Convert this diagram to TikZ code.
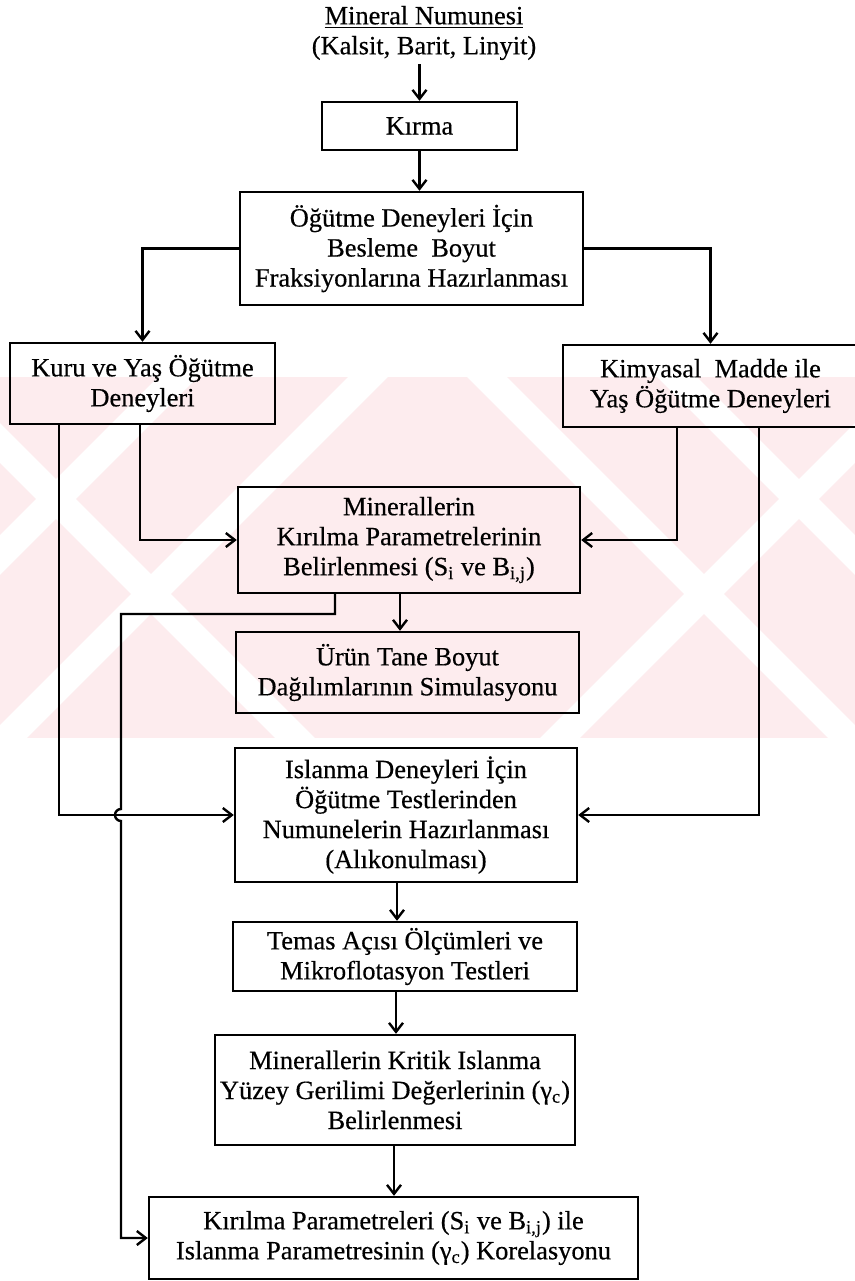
\documentclass[tikz,border=0pt]{standalone}
\usepackage{fontspec}
\setmainfont{Liberation Serif}[FakeBold=0.4]
\usetikzlibrary{arrows.meta}

\definecolor{wmpink}{RGB}{253,236,238}

\begin{document}
\begin{tikzpicture}[x=0.5pt, y=-0.5pt,
    box/.style={draw, line width=1.2pt, align=center, inner sep=0pt,
        font=\fontsize{13.2}{15}\selectfont},
    arr/.style={-{Straight Barb[length=4.5pt,width=7pt]}, line width=1.2pt},
    stripe/.style={white, line width=14pt}]
\useasboundingbox (0,0) rectangle (855,1281);
\begin{scope}
    \clip (0,377) rectangle (855,738);
    \fill [wmpink] (0,377) rectangle (855,738);
    \foreach \c in {443,-110,-300}
        \draw [stripe] (-500,{-500+\c}) -- (1400,{1400+\c});
    \foreach \c in {1298,745,555}
        \draw [stripe] (-500,{\c+500}) -- (1400,{\c-1400});
\end{scope}
\node (sample) at (424,33) [align=center, inner sep=0pt, font=\fontsize{13.2}{15}\selectfont]
    {\underline{Mineral Numunesi}\\(Kalsit, Barit, Linyit)};
\node (kirma) at (419.5,126) [box, minimum width=97.5pt, minimum height=24pt] {Kırma};
\node (besleme) at (411.5,248.5) [box, minimum width=171.5pt, minimum height=56.5pt]
    {Öğütme Deneyleri İçin\\Besleme\ \ Boyut\\Fraksiyonlarına Hazırlanması};
\node (kuru) at (142.5,383.5) [box, minimum width=132.5pt, minimum height=40.5pt]
    {Kuru ve Yaş Öğütme\\Deneyleri};
\node (kimya) at (710.5,386) [box, minimum width=147.5pt, minimum height=41pt]
    {Kimyasal\ \ Madde ile\\Yaş Öğütme Deneyleri};
\node (kirilma) at (409,540) [box, minimum width=171pt, minimum height=53pt]
    {Minerallerin\\Kırılma Parametrelerinin\\Belirlenmesi (S\textsubscript{i} ve B\textsubscript{i,j})};
\node (urun) at (407.5,672.5) [box, minimum width=171.5pt, minimum height=40.5pt]
    {Ürün Tane Boyut\\Dağılımlarının Simulasyonu};
\node (islanma) at (406,815) [box, minimum width=171pt, minimum height=67pt]
    {Islanma Deneyleri İçin\\Öğütme Testlerinden\\Numunelerin Hazırlanması\\(Alıkonulması)};
\node (temas) at (405,956.5) [box, minimum width=172pt, minimum height=34.5pt]
    {Temas Açısı Ölçümleri ve\\Mikroflotasyon Testleri};
\node (kritik) at (395,1090) [box, minimum width=180pt, minimum height=55pt]
    {Minerallerin Kritik Islanma\\Yüzey Gerilimi Değerlerinin (γ\textsubscript{c})\\Belirlenmesi};
\node (korelasyon) at (393.5,1238) [box, minimum width=244.5pt, minimum height=41pt]
    {Kırılma Parametreleri (S\textsubscript{i} ve B\textsubscript{i,j}) ile\\Islanma Parametresinin (γ\textsubscript{c}) Korelasyonu};
\coordinate (turn) at (121,614);
\coordinate (hop) at (121,809);
\draw [arr] ([yshift=-2pt]sample.south -| kirma.north) -- (kirma.north);
\draw [arr] (kirma.south) -- (besleme.north -| kirma.south);
\draw [arr] (besleme.west) -| (kuru.north);
\draw [arr] (besleme.east) -| (kimya.north);
\draw [arr] ([xshift=-1.25pt]kuru.south) |- (kirilma.west);
\draw [arr] ([xshift=-41.75pt]kuru.south) |- (islanma.west);
\draw [arr] ([xshift=-16.75pt]kimya.south) |- (kirilma.east);
\draw [arr] ([xshift=24.25pt]kimya.south) |- (islanma.east);
\draw [arr] ([xshift=-4.5pt]kirilma.south) -- ([xshift=-3.75pt]urun.north);
\draw [arr] ([xshift=-37pt]kirilma.south) |- (turn) -- (hop)
    arc [start angle=90, end angle=270, radius=3pt] |- (korelasyon.west);
\draw [arr] ([xshift=-4.5pt]islanma.south) -- ([xshift=-4pt]temas.north);
\draw [arr] ([xshift=-4.5pt]temas.south) -- ([xshift=0.5pt]kritik.north);
\draw [arr] ([xshift=-0.5pt]kritik.south) -- ([xshift=0.25pt]korelasyon.north);
\end{tikzpicture}
\end{document}
